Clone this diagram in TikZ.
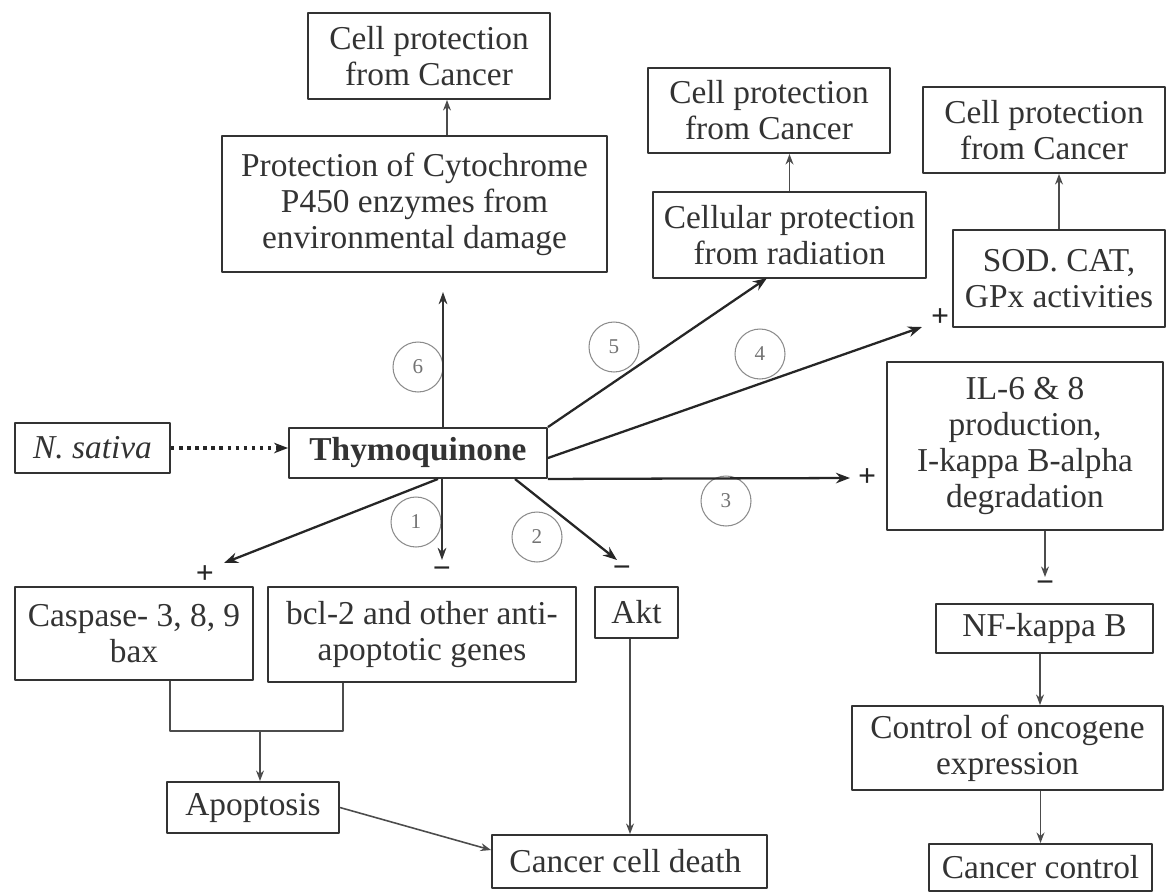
\documentclass[tikz,border=0pt]{standalone}
\usepackage{fontspec}
\setmainfont{Liberation Serif}
\usetikzlibrary{arrows.meta}

\begin{document}
\begin{tikzpicture}[x=0.02cm, y=-0.02cm, line join=bevel]
  % One unit is one pixel of the original figure, with y growing
  % downwards, so every box is placed by its centre in pixels.
  \tikzset{
    box_plain/.style={draw=black!80, line width=1.1pt, text=black!80,
      align=center, inner sep=0pt, font=\fontsize{19}{20.5}\selectfont},
    num_circle/.style={circle, draw=black!45, line width=0.6pt,
      minimum size=1cm, inner sep=0pt, text=black!55,
      font=\fontsize{12}{14}\selectfont},
    tq_arrow/.style={line width=1.3pt, draw=black!85,
      -{Stealth[length=8pt,width=6pt]}},
    tq_arrow_thin/.style={line width=0.9pt, draw=black!80,
      -{Stealth[length=7pt,width=5pt]}},
    thin_arrow/.style={line width=0.9pt, draw=black!70,
      -{Stealth[length=6pt,width=4.5pt]}},
    sign/.style={text=black!85, inner sep=0pt,
      font=\fontsize{18}{18}\selectfont\bfseries},
  }

  \useasboundingbox (0,0) rectangle (1166,893);

  % boxes: name / centre x / centre y / width (cm) / height (cm) / text
  \foreach \name/\x/\y/\w/\h/\txt in {
    cpc_a/429/56/4.84/1.72/{Cell protection\\from Cancer},
    cyto/414.5/204/7.7/2.72/{Protection of Cytochrome\\P450 enzymes from\\environmental damage},
    cpc_b/769/110.5/4.84/1.7/{Cell protection\\from Cancer},
    radiation/789.5/235/5.46/1.72/{Cellular protection\\from radiation},
    cpc_c/1044/130/4.84/1.72/{Cell protection\\from Cancer},
    sod/1059/278.5/4.24/1.94/{SOD. CAT,\\GPx activities},
    il/1025/446/5.52/3.36/{IL-6 \& 8\\production,\\I-kappa B-alpha\\degradation},
    nfkb/1044.5/628.5/4.34/0.98/{NF-kappa B},
    onco/1007.5/748/6.22/1.68/{Control of oncogene\\expression},
    cctrl/1040.5/867.5/4.46/0.94/{Cancer control},
    sativa/92.5/448/3.1/1.0/{\textit{N. sativa}},
    tq/418/453/5.16/1.0/{\textbf{Thymoquinone}},
    casp/134/633.5/4.76/1.86/{Caspase- 3, 8, 9\\bax},
    bcl/422/634.5/6.16/1.9/{bcl-2 and other anti-\\apoptotic genes},
    akt/636.5/612.5/1.66/1.02/{Akt},
    apop/253/807.5/3.44/1.02/{Apoptosis},
    ccd/629.5/861.5/5.5/1.06/{Cancer cell death}
  }{
    \node[box_plain, minimum width=\w cm, minimum height=\h cm] (\name) at (\x,\y) {\txt};
  }

  % numbered pathways
  \foreach \n/\x/\y in {1/416/522, 2/537/537, 3/726/501, 4/760/354, 5/614/347, 6/418/367}
    \node[num_circle] (num\n) at (\x,\y) {\n};

  % free ends of the arrows leaving Thymoquinone
  \coordinate (end1a) at (224,563);
  \coordinate (end1b) at (442,560);
  \coordinate (end2) at (617,560);
  \coordinate (end3) at (850,478);
  \coordinate (end4) at (922,327);
  \coordinate (end5) at (767,278);
  \coordinate (end6) at (443,292);
  \coordinate (end_il) at (1045,577);
  \coordinate (join) at (260,731);

  \draw[line width=1.8pt, draw=black!85, dash pattern=on 2pt off 2.6pt,
    -{Stealth[length=8pt,width=6pt]}] (sativa.east) -- (sativa.east -| tq.west);

  \draw[tq_arrow_thin] ([xshift=0.5cm]tq.north) -- (end6);
  \draw[tq_arrow] (tq.north east) -- (end5);
  \draw[tq_arrow] ([yshift=-0.1cm]tq.east) -- (end4);
  \draw[tq_arrow] (tq.south east) -- (end3);
  \draw[tq_arrow] ([xshift=1.94cm]tq.south) -- (end2);
  \draw[tq_arrow_thin] ([xshift=0.48cm]tq.south) -- (end1b);
  \draw[tq_arrow] ([xshift=0.4cm]tq.south) -- (end1a);

  \node[sign] (plus1) at (205,575) {+};
  \node[sign] (minus1) at (442,573) {−};
  \node[sign] (minus2) at (622,572) {−};
  \node[sign] (plus3) at (867,478) {+};
  \node[sign] (plus4) at (940,318) {+};
  \node[sign] (minus_il) at (1045,587) {−};

  % upper branches
  \draw[thin_arrow] ([xshift=0.65cm]cyto.north) -- ([xshift=0.65cm]cyto.north |- cpc_a.south);
  \draw[thin_arrow] (radiation.north) -- (radiation.north |- cpc_b.south);
  \draw[thin_arrow] (sod.north) -- (sod.north |- cpc_c.south);

  % right hand chain
  \draw[thin_arrow] ([xshift=0.4cm]il.south) -- (end_il);
  \draw[thin_arrow] ([xshift=-0.09cm]nfkb.south) -- ([xshift=-0.09cm]nfkb.south |- onco.north);
  \draw[thin_arrow] (cctrl.north |- onco.south) -- (cctrl.north);

  % apoptosis and cell death
  \draw[line width=0.9pt, draw=black!70]
    ([xshift=0.72cm]casp.south) |- (join) -| ([xshift=-1.58cm]bcl.south);
  \draw[thin_arrow] (join) -- (join |- apop.north);
  \draw[thin_arrow] (apop.east) -- ([yshift=0.23cm]ccd.west);
  \draw[thin_arrow] ([xshift=-0.13cm]akt.south) -- ([xshift=-0.13cm]akt.south |- ccd.north);
\end{tikzpicture}
\end{document}
